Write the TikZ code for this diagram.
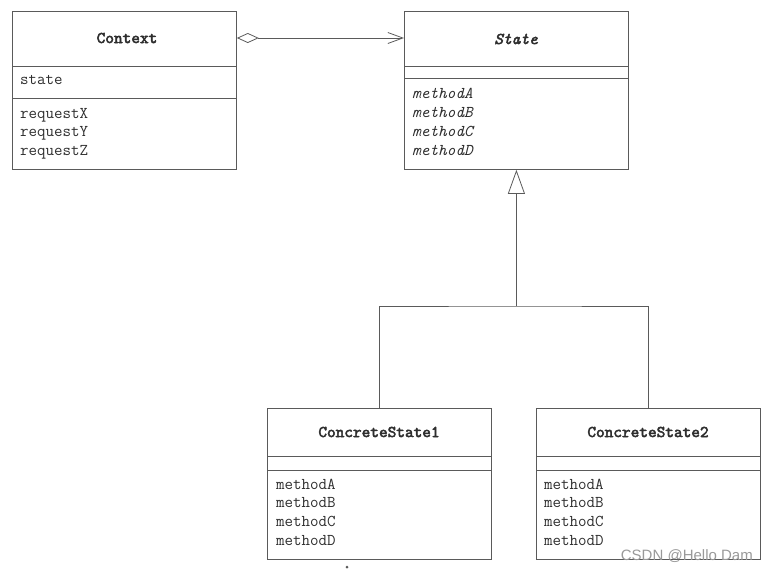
\documentclass[tikz,border=0pt]{standalone}
\usepackage{fontspec}
\newfontfamily\wmfont{Liberation Sans}
\newfontfamily\ttbold{lmmono10-regular.otf}[FakeBold=3]
\newfontfamily\ttboldit{lmmono10-italic.otf}[FakeBold=3]
\usetikzlibrary{arrows.meta}
\definecolor{linegray}{HTML}{5A5A5A}
\definecolor{txt}{HTML}{2E2E2E}
\begin{document}
\begin{tikzpicture}[x=1pt,y=-1pt,
  classbox/.style={draw=linegray, line width=0.8pt, anchor=north west, inner sep=0pt, minimum width=224pt},
  member/.style={anchor=mid west, inner sep=0pt, font=\ttfamily\fontsize{16.5}{18}\selectfont, text=txt},
  imember/.style={member, font=\ttfamily\fontsize{16.5}{18}\selectfont\itshape},
  ctitle/.style={inner sep=0pt, font=\ttbold\fontsize{16.5}{18}\selectfont, text=txt},
  conn/.style={draw=linegray, line width=0.8pt}]
\useasboundingbox (0,0) rectangle (767,571);
% boxes
\node[classbox, minimum height=158pt] (ctx) at (12,11) {};
\node[classbox, minimum height=158pt] (st) at (404,11) {};
\node[classbox, minimum height=151pt] (cs1) at (267,408) {};
\node[classbox, minimum height=151pt] (cs2) at (536,408) {};
% compartments
\draw[conn] (ctx.west |- 0,66) -- (ctx.east |- 0,66);
\draw[conn] (ctx.west |- 0,98) -- (ctx.east |- 0,98);
\draw[conn] (st.west |- 0,66) -- (st.east |- 0,66);
\draw[conn] (st.west |- 0,78) -- (st.east |- 0,78);
\draw[conn] (cs1.west |- 0,456) -- (cs1.east |- 0,456);
\draw[conn] (cs1.west |- 0,470) -- (cs1.east |- 0,470);
\draw[conn] (cs2.west |- 0,456) -- (cs2.east |- 0,456);
\draw[conn] (cs2.west |- 0,470) -- (cs2.east |- 0,470);
% titles
\node[ctitle] (ctxT) at (127,38) {Context};
\node[ctitle, font=\ttboldit\fontsize{16.5}{18}\selectfont] (stT) at (516,39) {State};
\node[ctitle] (cs1T) at (379,432) {ConcreteState1};
\node[ctitle] (cs2T) at (648,432) {ConcreteState2};
% members
\node[member] (ctxS) at (20,82) {state};
\node[member] (ctxX) at (20,116) {requestX};
\node[member] (ctxY) at (20,134.5) {requestY};
\node[member] (ctxZ) at (20,153) {requestZ};
\node[imember] (stA) at (412,96) {methodA};
\node[imember] (stB) at (412,115) {methodB};
\node[imember] (stC) at (412,134) {methodC};
\node[imember] (stD) at (412,153) {methodD};
\node[member] (c1A) at (276,487) {methodA};
\node[member] (c1B) at (276,505.5) {methodB};
\node[member] (c1C) at (276,524) {methodC};
\node[member] (c1D) at (276,543) {methodD};
\node[member] (c2A) at (544,487) {methodA};
\node[member] (c2B) at (544,505.5) {methodB};
\node[member] (c2C) at (544,524) {methodC};
\node[member] (c2D) at (544,543) {methodD};
% aggregation
\coordinate (aggS) at (ctx.east |- 0,38);
\coordinate (aggE) at (st.west |- 0,38);
\draw[conn, {Diamond[open, length=22pt, width=10pt, line width=0.8pt]}-{Straight Barb[length=15pt, width=11pt, line width=0.8pt]}] (aggS) -- (aggE);
% generalization
\coordinate (bar) at (st.south |- 0,306);
\draw[conn] (cs1.north) |- (bar) -| (cs2.north);
\draw[conn, -{Triangle[open, length=24pt, width=17pt, line width=0.8pt]}] (bar) -- (st.south);
% stray dot
\fill[linegray] (347,567) circle (1.5pt);
% watermark
\node[anchor=base east, inner sep=0pt, font=\wmfont\fontsize{15}{15}\selectfont, text=black!40] (wm) at (753,560) {CSDN @Hello Dam};
\end{tikzpicture}
\end{document}
